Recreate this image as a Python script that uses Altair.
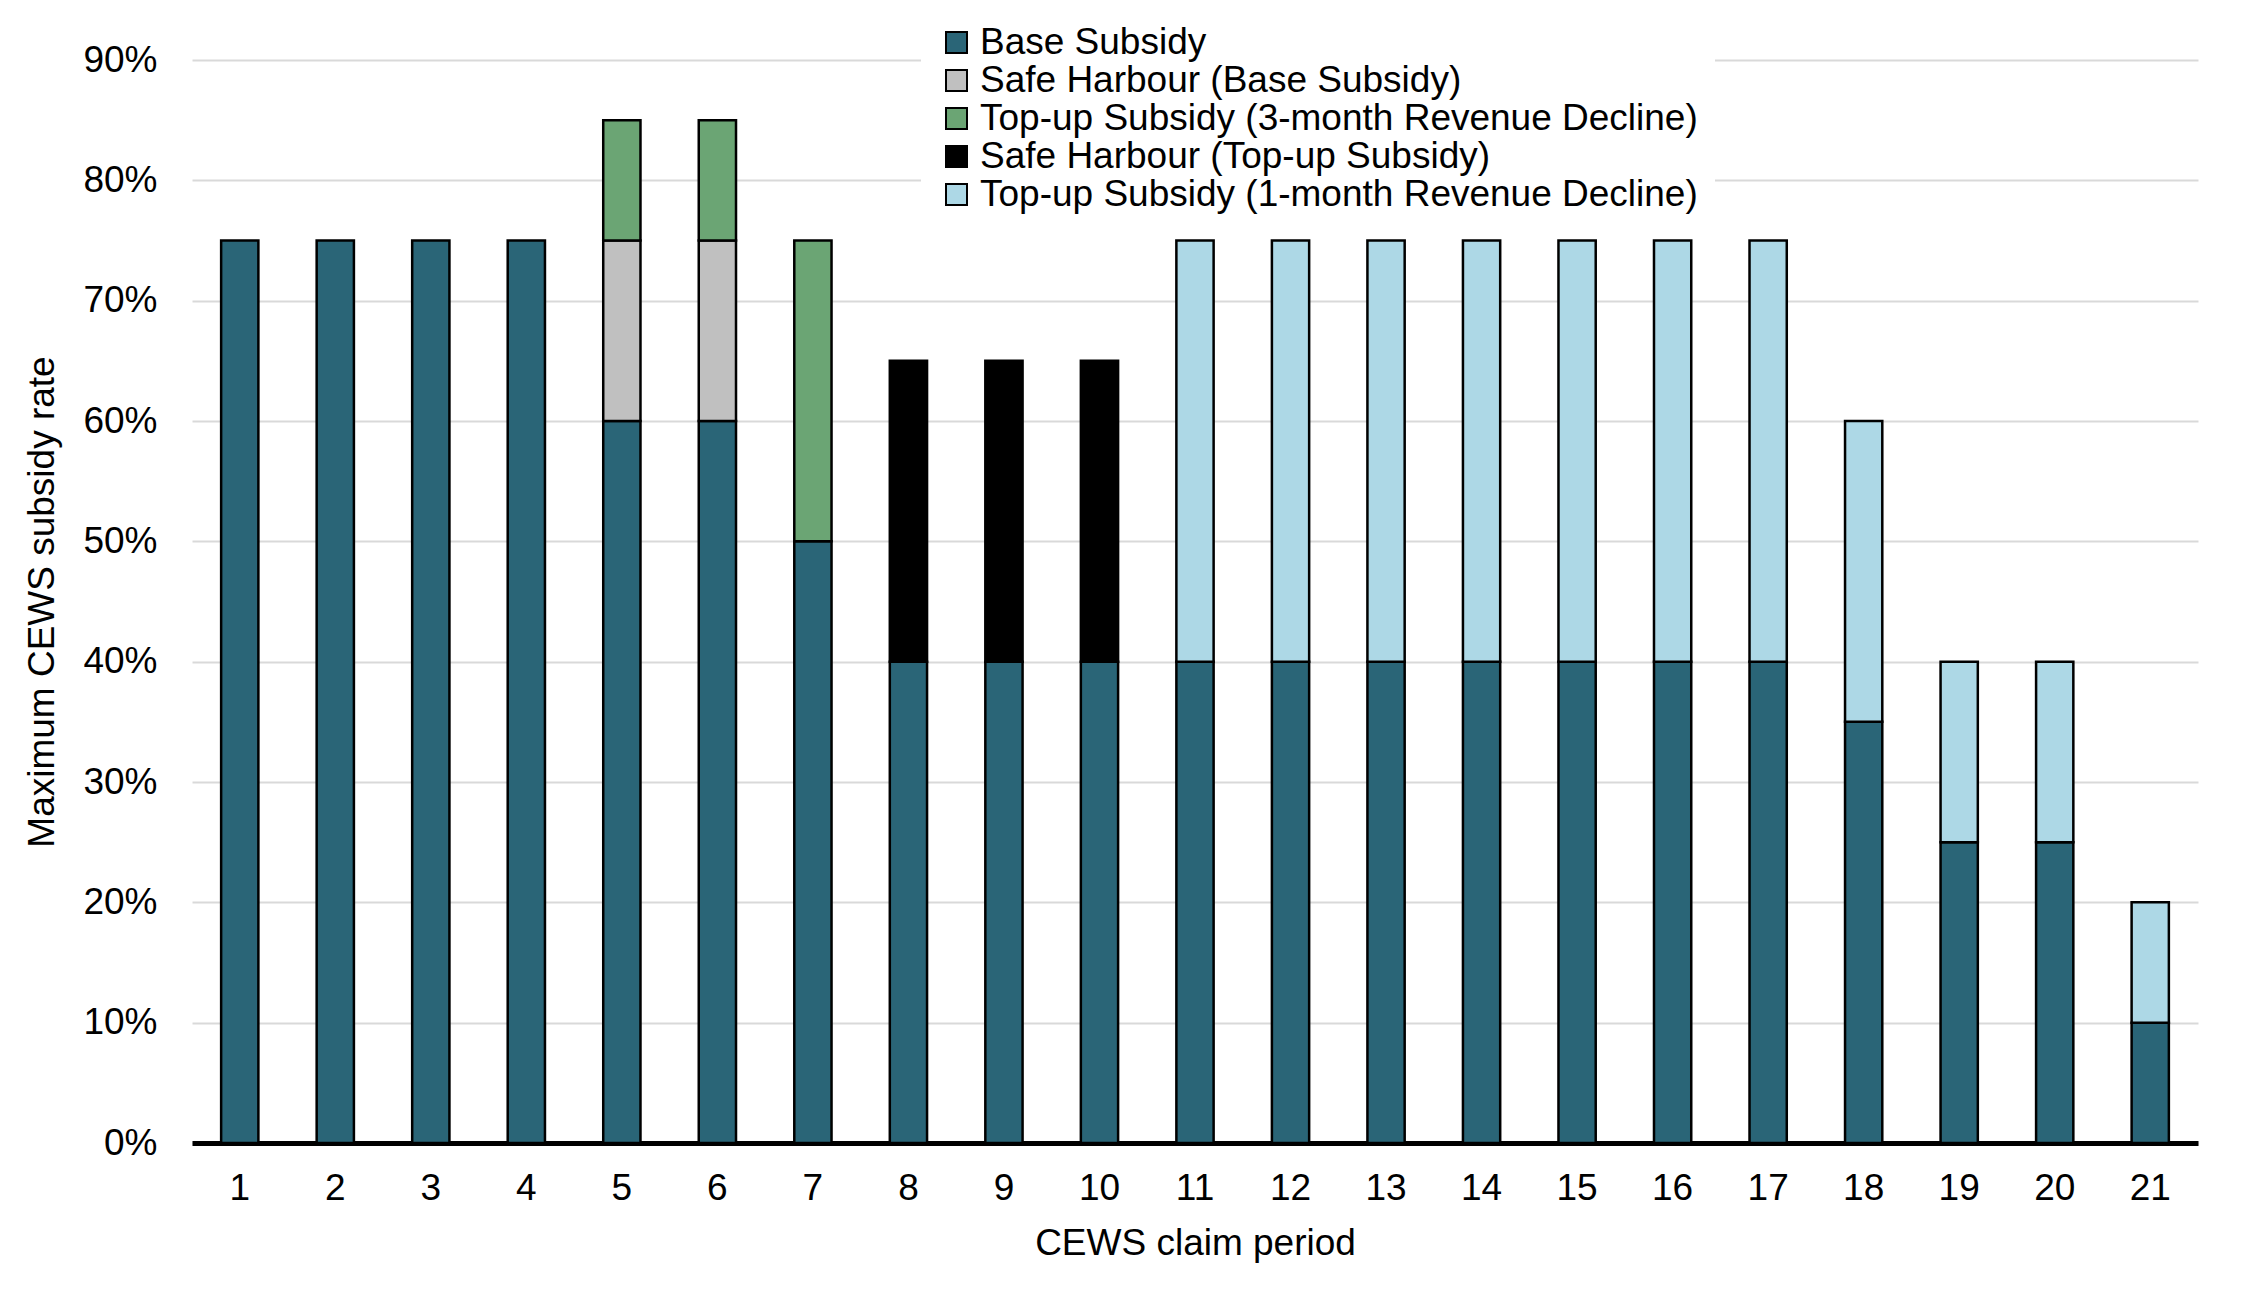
import altair as alt
import pandas as pd

periods = list(range(1, 22))
series_names = [
    "Base Subsidy",
    "Safe Harbour (Base Subsidy)",
    "Top-up Subsidy (3-month Revenue Decline)",
    "Safe Harbour (Top-up Subsidy)",
    "Top-up Subsidy (1-month Revenue Decline)",
]
series_colors = ["#2A6577", "#C0C0C0", "#6BA574", "#000000", "#ADD8E6"]

base_subsidy = [75, 75, 75, 75, 60, 60, 50, 40, 40, 40, 40, 40, 40, 40, 40, 40, 40, 35, 25, 25, 10]
safe_harbour_base = [0, 0, 0, 0, 15, 15, 0, 0, 0, 0, 0, 0, 0, 0, 0, 0, 0, 0, 0, 0, 0]
topup_3month = [0, 0, 0, 0, 10, 10, 25, 0, 0, 0, 0, 0, 0, 0, 0, 0, 0, 0, 0, 0, 0]
safe_harbour_topup = [0, 0, 0, 0, 0, 0, 0, 25, 25, 25, 0, 0, 0, 0, 0, 0, 0, 0, 0, 0, 0]
topup_1month = [0, 0, 0, 0, 0, 0, 0, 0, 0, 0, 35, 35, 35, 35, 35, 35, 35, 25, 15, 15, 10]

y_ticks = [0, 10, 20, 30, 40, 50, 60, 70, 80, 90]

all_series = [base_subsidy, safe_harbour_base, topup_3month, safe_harbour_topup, topup_1month]
rows = []
for si, (name, vals) in enumerate(zip(series_names, all_series)):
    for p, v in zip(periods, vals):
        if v > 0:
            rows.append({"period": str(p), "series": name, "order": si, "value": v})
df = pd.DataFrame(rows)

FONT = "Liberation Sans"

chart = alt.Chart(df).mark_bar(stroke="black", strokeWidth=2.5).encode(
    x=alt.X(
        "period:N",
        sort=[str(p) for p in periods],
        scale=alt.Scale(paddingInner=0.61, paddingOuter=0.305),
        axis=alt.Axis(
            title="CEWS claim period",
            labelAngle=0,
            ticks=False,
            domainColor="black",
            domainWidth=5,
            labelPadding=27,
            labelFontSize=37,
            titleFontSize=37,
            titleFontWeight="normal",
            titlePadding=19,
            labelColor="black",
            titleColor="black",
            grid=False,
        ),
    ),
    y=alt.Y(
        "value:Q",
        stack="zero",
        scale=alt.Scale(domain=[0, 90], nice=False),
        axis=alt.Axis(
            title="Maximum CEWS subsidy rate",
            values=y_ticks,
            labelExpr="datum.value + '%'",
            domain=False,
            ticks=False,
            labelPadding=35,
            labelFontSize=37,
            titleFontSize=37,
            titleFontWeight="normal",
            titlePadding=21,
            labelColor="black",
            titleColor="black",
            gridColor="#D9D9D9",
            gridWidth=2,
        ),
    ),
    color=alt.Color(
        "series:N",
        scale=alt.Scale(domain=series_names, range=series_colors),
        legend=alt.Legend(
            title=None,
            orient="none",
            legendX=729,
            legendY=-53,
            fillColor="white",
            padding=17,
            symbolType="square",
            symbolSize=441,
            symbolStrokeColor="black",
            symbolStrokeWidth=2,
            labelFontSize=37,
            labelColor="black",
            labelOffset=5,
            rowPadding=0,
            labelLimit=1000,
        ),
    ),
    order=alt.Order("order:Q", sort="ascending"),
).properties(
    width=2006,
    height=1083,
    autosize=alt.AutoSizeParams(type="none"),
    padding={"left": 184, "top": 52, "right": 30, "bottom": 165},
).configure(
    font=FONT,
).configure_view(
    stroke=None,
)

chart.save("out.html", embed_options={"renderer": "svg", "actions": False})
